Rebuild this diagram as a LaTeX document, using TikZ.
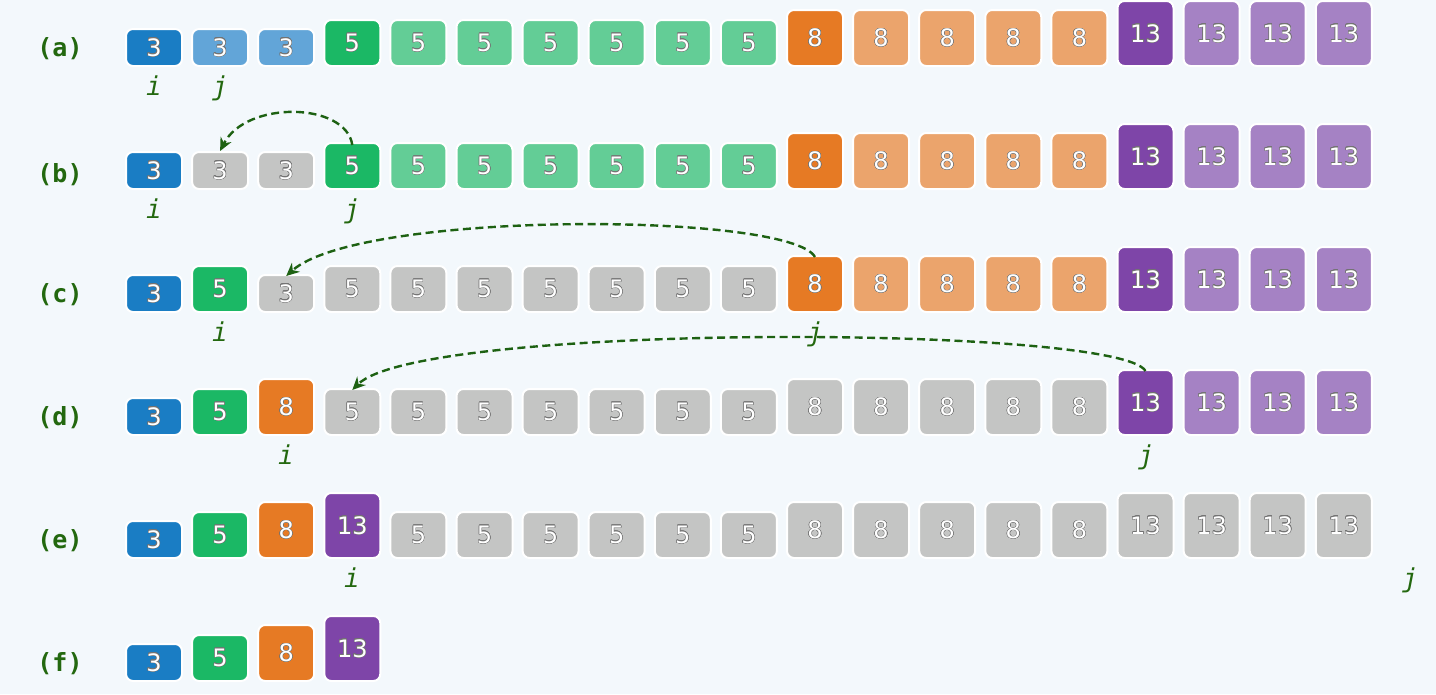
\documentclass[tikz,border=0pt]{standalone}
\usepackage{fontspec}
\usepackage[copies]{contour}
\setmainfont{DejaVu Sans}
\newfontfamily\monofont{DejaVu Sans Mono}
\usetikzlibrary{arrows.meta}
\definecolor{bg}{HTML}{F3F8FC}
\definecolor{dblue}{HTML}{1A7DC4}
\definecolor{lblue}{HTML}{62A5D8}
\definecolor{dgreen}{HTML}{1BB865}
\definecolor{lgreen}{HTML}{63CD96}
\definecolor{dorange}{HTML}{E67A24}
\definecolor{lorange}{HTML}{EBA46C}
\definecolor{dpurple}{HTML}{7E45A8}
\definecolor{lpurple}{HTML}{A582C4}
\definecolor{gbox}{HTML}{C4C5C4}
\definecolor{lab}{HTML}{23680F}
\definecolor{arrc}{HTML}{1D6112}
\contourlength{0.45pt}
\contournumber{16}
\newcommand\drawrow[3]{%
  \foreach \v/\s [count=\k from 0] in {#3} {
    \node[box,h\v,\s,anchor=south] (#1\k) at ({154+66.1*\k},#2) {\contour{black!55}{\v}};
  }}
\tikzset{
  box/.style={draw=white, line width=2pt, rounded corners=7pt, minimum width=56pt,
    inner sep=0pt, text=white, font=\fontsize{24}{24}\selectfont},
  h3/.style={minimum height=37pt},
  h5/.style={minimum height=46pt},
  h8/.style={minimum height=56pt},
  h13/.style={minimum height=65pt},
  cB/.style={fill=dblue}, cb/.style={fill=lblue},
  cG/.style={fill=dgreen}, cg/.style={fill=lgreen},
  cO/.style={fill=dorange}, co/.style={fill=lorange},
  cP/.style={fill=dpurple}, cp/.style={fill=lpurple},
  cx/.style={fill=gbox},
  rowlab/.style={text=lab, font=\monofont\bfseries\fontsize{25}{25}\selectfont},
  ptr/.style={text=lab, anchor=base, font=\monofont\itshape\fontsize{26}{26}\selectfont},
  arr/.style={draw=arrc, line width=2.4pt, dash pattern=on 8pt off 4.5pt,
    -{Stealth[length=13pt,width=12pt]}},
}
\begin{document}
\begin{tikzpicture}[x=1pt,y=-1pt]
\fill[bg] (0,0) rectangle (1436,694);
\useasboundingbox (0,0) rectangle (1436,694);
% row labels
\node[rowlab] (la) at (60,49) {(a)};
\node[rowlab] (lb) at (60,175) {(b)};
\node[rowlab] (lc) at (60,295) {(c)};
\node[rowlab] (ld) at (60,418) {(d)};
\node[rowlab] (le) at (60,541) {(e)};
\node[rowlab] (lf) at (60,664) {(f)};
% rows
\drawrow{a}{67}{3/cB,3/cb,3/cb,5/cG,5/cg,5/cg,5/cg,5/cg,5/cg,5/cg,8/cO,8/co,8/co,8/co,8/co,13/cP,13/cp,13/cp,13/cp}
\drawrow{b}{190}{3/cB,3/cx,3/cx,5/cG,5/cg,5/cg,5/cg,5/cg,5/cg,5/cg,8/cO,8/co,8/co,8/co,8/co,13/cP,13/cp,13/cp,13/cp}
\drawrow{c}{313}{3/cB,5/cG,3/cx,5/cx,5/cx,5/cx,5/cx,5/cx,5/cx,5/cx,8/cO,8/co,8/co,8/co,8/co,13/cP,13/cp,13/cp,13/cp}
\drawrow{d}{436}{3/cB,5/cG,8/cO,5/cx,5/cx,5/cx,5/cx,5/cx,5/cx,5/cx,8/cx,8/cx,8/cx,8/cx,8/cx,13/cP,13/cp,13/cp,13/cp}
\drawrow{e}{559}{3/cB,5/cG,8/cO,13/cP,5/cx,5/cx,5/cx,5/cx,5/cx,5/cx,8/cx,8/cx,8/cx,8/cx,8/cx,13/cx,13/cx,13/cx,13/cx}
\drawrow{f}{682}{3/cB,5/cG,8/cO,13/cP}
% pointers
\node[ptr] (ai) at (154,95) {i};
\node[ptr] (aj) at (220,95) {j};
\node[ptr] (bi) at (154,218) {i};
\node[ptr] (bj) at (352,218) {j};
\node[ptr] (ci) at (220,341) {i};
\node[ptr] (cj) at (815,341) {j};
\node[ptr] (di) at (286,464) {i};
\node[ptr] (dj) at (1146,464) {j};
\node[ptr] (ei) at (352,587) {i};
\node[ptr] (ej) at (1410,587) {j};
% arrows
\draw[arr] ([yshift=-3pt]b3.north) .. controls (346,102) and (246,100) .. (b1.north);
\draw[arr] ([yshift=-2pt]c10.north) .. controls (790,212) and (360,210) .. ([yshift=-2pt]c2.north);
\draw[arr] ([yshift=-2pt]d15.north) .. controls (1120,325) and (420,322) .. ([yshift=-2pt]d3.north);
\end{tikzpicture}
\end{document}
